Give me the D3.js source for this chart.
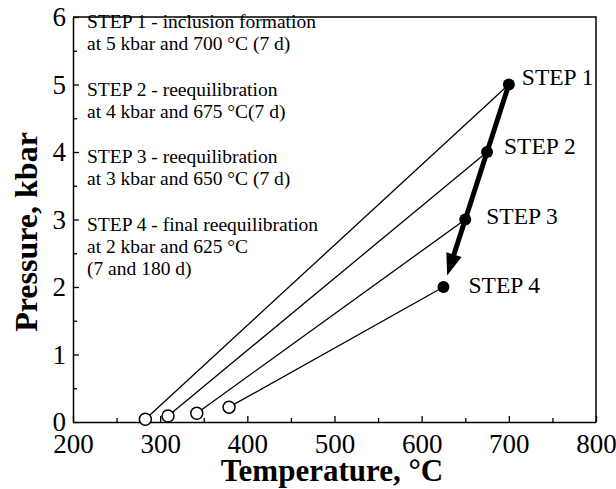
<!DOCTYPE html>
<html>
<head>
<meta charset="utf-8">
<script src="https://cdn.jsdelivr.net/npm/d3@7"></script>
<style>
  body { margin: 0; background: #fff; }
  text { font-family: "Liberation Serif", "DejaVu Serif", serif; fill: #000; }
</style>
</head>
<body>
<div id="chart"></div>
<script>
// experiment steps (filled dots)
var stepNames = ["STEP 1", "STEP 2", "STEP 3", "STEP 4"];
var stepT = [700, 675, 650, 625];
var stepP = [5, 4, 3, 2];
// where each tie line ends near the T axis (open dots)
var openT = [283, 309, 342, 379];
var openP = [0.04, 0.09, 0.13, 0.22];

var notes = [
  ["STEP 1 - inclusion formation", "at 5 kbar and 700 °C (7 d)"],
  ["STEP 2 - reequilibration", "at 4 kbar and 675 °C(7 d)"],
  ["STEP 3 - reequilibration", "at 3 kbar and 650 °C (7 d)"],
  ["STEP 4 - final reequilibration", "at 2 kbar and 625 °C", "(7 and 180 d)"]
];

var xTicks = [200, 300, 400, 500, 600, 700, 800];
var xMinor = [250, 350, 450, 550, 650, 750];
var yTicks = [0, 1, 2, 3, 4, 5, 6];
var yMinor = [0.5, 1.5, 2.5, 3.5, 4.5, 5.5];

var W = 616, H = 489;
var padL = 73, padR = 596, padT = 17, padB = 422;

var svg = d3.select("#chart").append("svg")
  .attr("width", W)
  .attr("height", H);

var x = d3.scaleLinear().domain([200, 800]).range([padL, padR]);
var y = d3.scaleLinear().domain([0, 6]).range([padB, padT]);

// frame top + right
svg.append("path")
  .attr("d", "M" + padL + "," + padT + "H" + padR + "V" + padB)
  .attr("fill", "none")
  .attr("stroke", "#000")
  .attr("stroke-width", 1.5);

var xAxis = svg.append("g")
  .attr("transform", "translate(0," + padB + ")")
  .call(d3.axisBottom(x).tickValues(xTicks).tickSize(-6).tickSizeOuter(0).tickPadding(12));
var xAxisMinor = svg.append("g")
  .attr("transform", "translate(0," + padB + ")")
  .call(d3.axisBottom(x).tickValues(xMinor).tickSize(-4).tickSizeOuter(0).tickFormat(""));

var yAxis = svg.append("g")
  .attr("transform", "translate(" + padL + ",0)")
  .call(d3.axisLeft(y).tickValues(yTicks).tickFormat(d3.format("d"))
    .tickSize(-6).tickSizeOuter(0).tickPadding(7));
var yAxisMinor = svg.append("g")
  .attr("transform", "translate(" + padL + ",0)")
  .call(d3.axisLeft(y).tickValues(yMinor).tickSize(-4).tickSizeOuter(0).tickFormat(""));

svg.selectAll(".domain").attr("stroke-width", 1.5);
xAxisMinor.select(".domain").remove();
yAxisMinor.select(".domain").remove();
svg.selectAll(".tick line").attr("stroke-width", 1.3);
svg.selectAll(".tick text")
  .style("font-family", "'Liberation Serif', serif")
  .style("font-size", "27px");

// axis titles
svg.append("text")
  .attr("x", 332)
  .attr("y", 481)
  .attr("text-anchor", "middle")
  .style("font-size", "31px")
  .style("font-weight", "bold")
  .text("Temperature, °C");

svg.append("text")
  .attr("transform", "translate(37,232) rotate(-90)")
  .attr("text-anchor", "middle")
  .style("font-size", "32px")
  .style("font-weight", "bold")
  .text("Pressure, kbar");

// tie lines
var ties = d3.range(stepT.length);
svg.selectAll(".tie")
  .data(ties)
  .enter().append("line")
  .attr("class", "tie")
  .attr("x1", function(i) { return x(stepT[i]); })
  .attr("y1", function(i) { return y(stepP[i]); })
  .attr("x2", function(i) { return x(openT[i]); })
  .attr("y2", function(i) { return y(openP[i]); })
  .attr("stroke", "#000")
  .attr("stroke-width", 1.3);

// thick arrow along the path of steps
var arrowEnd = 0.83; // tip sits this far from step 3 to step 4
var n = stepT.length;
var tipX = x(stepT[n - 2]) + arrowEnd * (x(stepT[n - 1]) - x(stepT[n - 2]));
var tipY = y(stepP[n - 2]) + arrowEnd * (y(stepP[n - 1]) - y(stepP[n - 2]));
var dx = tipX - x(stepT[n - 2]), dy = tipY - y(stepP[n - 2]);
var len = Math.sqrt(dx * dx + dy * dy);
var ux = dx / len, uy = dy / len;
var headL = 22, headW = 8;
var baseX = tipX - ux * headL, baseY = tipY - uy * headL;

var pts = [];
for (var i = 0; i < n - 1; i++) pts.push([x(stepT[i]), y(stepP[i])]);
pts.push([baseX + ux * 2, baseY + uy * 2]);
svg.append("path")
  .attr("d", d3.line()(pts))
  .attr("fill", "none")
  .attr("stroke", "#000")
  .attr("stroke-width", 5);

svg.append("path")
  .attr("d", "M" + tipX + "," + tipY +
    "L" + (baseX - uy * headW) + "," + (baseY + ux * headW) +
    "L" + (baseX + uy * headW) + "," + (baseY - ux * headW) + "Z")
  .attr("fill", "#000");

// open dots
svg.selectAll(".open")
  .data(ties)
  .enter().append("circle")
  .attr("class", "open")
  .attr("cx", function(i) { return x(openT[i]); })
  .attr("cy", function(i) { return y(openP[i]); })
  .attr("r", 6)
  .attr("fill", "#fff")
  .attr("stroke", "#000")
  .attr("stroke-width", 1.5);

// filled dots
svg.selectAll(".step")
  .data(ties)
  .enter().append("circle")
  .attr("class", "step")
  .attr("cx", function(i) { return x(stepT[i]); })
  .attr("cy", function(i) { return y(stepP[i]); })
  .attr("r", 6)
  .attr("fill", "#000");

svg.selectAll(".stepLabel")
  .data(ties)
  .enter().append("text")
  .attr("class", "stepLabel")
  .attr("x", function(i) { return x(stepT[i]) + 13 + i * 4; })
  .attr("y", function(i) { return y(stepP[i]) + i * 2; })
  .style("font-size", "23.5px")
  .text(function(i) { return stepNames[i]; });

// notes block, each heading lines up with a P tick
var noteG = svg.selectAll(".note")
  .data(notes)
  .enter().append("text")
  .attr("class", "note")
  .style("font-family", "'Liberation Serif', serif")
  .style("font-size", "19.5px");
noteG.selectAll("tspan")
  .data(function(d, i) { return d.map(function(s) { return { s: s, k: i }; }); })
  .enter().append("tspan")
  .attr("x", padL + 14)
  .attr("y", function(d, j) { return y(6 - d.k) + 11 + j * 22; })
  .text(function(d) { return d.s; });
</script>
</body>
</html>
